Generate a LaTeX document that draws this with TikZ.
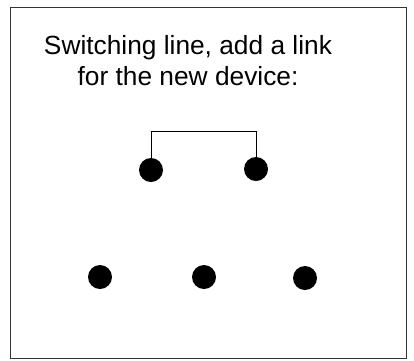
\documentclass[tikz,border=0pt]{standalone}
\usepackage{fontspec}
\setmainfont{Liberation Sans}
\begin{document}
\begin{tikzpicture}[x=1pt,y=-1pt,
  dev/.style={circle,fill=black,minimum size=24pt,inner sep=0pt},
  frame/.style={draw=black!80,line width=0.9pt},
  link/.style={draw=black,line width=0.8pt}]
\useasboundingbox (0,0) rectangle (414,360);
\draw[frame] (10.5,7) rectangle (406.5,358);
\node[align=center,font=\fontsize{26.3}{31}\selectfont,inner sep=0pt] (title) at (188,61) {Switching line, add a link\\for the new device:};
\node[dev] (a) at (151,170) {};
\node[dev] (b) at (256,169) {};
\node[dev] (c) at (100,277) {};
\node[dev] (d) at (204,277) {};
\node[dev] (e) at (305,278) {};
\draw[link] (a.north) -- ++(0,-26) -| (b.north);
\end{tikzpicture}
\end{document}
